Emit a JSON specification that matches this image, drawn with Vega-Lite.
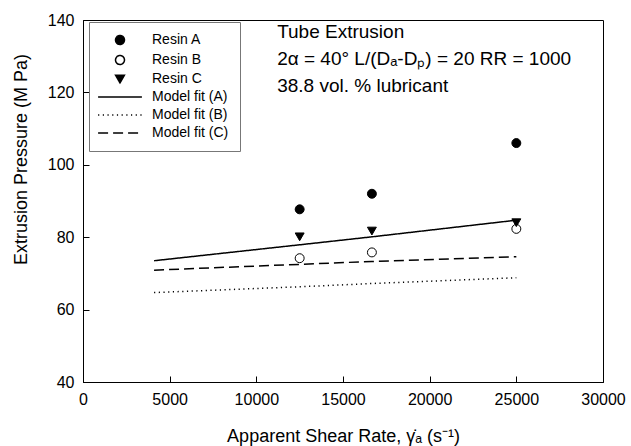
{
  "$schema": "https://vega.github.io/schema/vega-lite/v6.json",
  "width": 520,
  "height": 362,
  "autosize": {"type": "none"},
  "padding": {"left": 83, "top": 20, "right": 28, "bottom": 64},
  "background": "white",
  "config": {
    "font": "Liberation Sans",
    "view": {"stroke": "black", "strokeWidth": 1},
    "axis": {"labelColor": "black", "titleColor": "black", "titleFontWeight": "normal", "grid": false}
  },
  "layer": [
    {
      "data": {"values": [
        {"series": "Model fit (A)", "x": 4100, "y": 73.5},
        {"series": "Model fit (A)", "x": 12500, "y": 77.9},
        {"series": "Model fit (A)", "x": 16667, "y": 80.1},
        {"series": "Model fit (A)", "x": 25000, "y": 84.7},
        {"series": "Model fit (B)", "x": 4100, "y": 64.7},
        {"series": "Model fit (B)", "x": 12500, "y": 66.3},
        {"series": "Model fit (B)", "x": 16667, "y": 67.2},
        {"series": "Model fit (B)", "x": 25000, "y": 68.8},
        {"series": "Model fit (C)", "x": 4100, "y": 70.9},
        {"series": "Model fit (C)", "x": 12500, "y": 72.5},
        {"series": "Model fit (C)", "x": 16667, "y": 73.3},
        {"series": "Model fit (C)", "x": 25000, "y": 74.6}
      ]},
      "mark": {"type": "line", "color": "black", "strokeWidth": 1.5},
      "encoding": {
        "x": {"field": "x", "type": "quantitative", "scale": {"domain": [0, 30000], "nice": false},
          "axis": {"orient": "bottom", "values": [0, 5000, 10000, 15000, 20000, 25000, 30000], "format": "d", "ticks": true, "tickColor": "black", "tickWidth": 1, "tickOpacity": 1, "tickSize": -6, "labelPadding": 15, "labelFontSize": 16, "labelFlush": false, "grid": false, "domainColor": "black",
            "title": "Apparent Shear Rate, γ̇ₐ (s⁻¹)", "titleFontSize": 18, "titleBaseline": "middle", "titleY": 54}},
        "y": {"field": "y", "type": "quantitative", "scale": {"domain": [40, 140], "nice": false, "zero": false},
          "axis": {"orient": "left", "values": [40, 60, 80, 100, 120, 140], "ticks": true, "tickColor": "black", "tickWidth": 1, "tickOpacity": 1, "tickSize": -6, "labelPadding": 15, "labelFontSize": 16, "labelFlush": false, "grid": false, "domainColor": "black",
            "title": "Extrusion Pressure (M Pa)", "titleFontSize": 18, "titleBaseline": "middle", "titleAlign": "center", "titleX": -62, "titleY": 139, "titleAngle": -90}},
        "strokeDash": {"field": "series", "type": "nominal",
          "scale": {"domain": ["Resin A", "Resin B", "Resin C", "Model fit (A)", "Model fit (B)", "Model fit (C)"], "range": [[1, 0], [1, 0], [1, 0], [1, 0], [1.2, 3.5], [10, 5]]},
          "legend": {"orient": "none", "legendX": 6, "legendY": 2, "title": null, "padding": 11, "strokeColor": "#777", "fillColor": "white", "labelFontSize": 14, "labelColor": "black", "rowPadding": 4, "labelOffset": 25, "symbolOffset": 13, "symbolSize": 80, "labelExpr": "datum.label + ' '",
            "encode": {"symbols": {"update": {"stroke": {"value": "black"}, "strokeWidth": {"value": 1.3}, "opacity": {"value": 1}}}}}}
      }
    },
    {
      "data": {"values": [
        {"series": "Resin A", "x": 12500, "y": 87.7},
        {"series": "Resin A", "x": 16667, "y": 92.0},
        {"series": "Resin A", "x": 25000, "y": 106.0},
        {"series": "Resin B", "x": 12500, "y": 74.2},
        {"series": "Resin B", "x": 16667, "y": 75.8},
        {"series": "Resin B", "x": 25000, "y": 82.3},
        {"series": "Resin C", "x": 12500, "y": 80.1},
        {"series": "Resin C", "x": 16667, "y": 81.7},
        {"series": "Resin C", "x": 25000, "y": 84.0}
      ]},
      "mark": {"type": "point", "filled": true, "stroke": "black", "strokeWidth": 1, "opacity": 1, "size": 80},
      "encoding": {
        "x": {"field": "x", "type": "quantitative", "scale": {"domain": [0, 30000], "nice": false}},
        "y": {"field": "y", "type": "quantitative", "scale": {"domain": [40, 140], "nice": false, "zero": false}},
        "shape": {"field": "series", "type": "nominal",
          "scale": {"domain": ["Resin A", "Resin B", "Resin C", "Model fit (A)", "Model fit (B)", "Model fit (C)"], "range": ["circle", "circle", "triangle-down", "M-4.9,0H4.9", "M-4.9,0H4.9", "M-4.9,0H4.9"]},
          "legend": {"orient": "none", "legendX": 6, "legendY": 2, "title": null, "padding": 11, "strokeColor": "#777", "fillColor": "white", "labelFontSize": 14, "labelColor": "black", "rowPadding": 4, "labelOffset": 25, "symbolOffset": 13, "symbolSize": 80, "labelExpr": "datum.label + ' '",
            "encode": {"symbols": {"update": {"stroke": {"value": "black"}, "strokeWidth": {"value": 1.3}, "opacity": {"value": 1}}}}}},
        "fill": {"field": "series", "type": "nominal",
          "scale": {"domain": ["Resin A", "Resin B", "Resin C", "Model fit (A)", "Model fit (B)", "Model fit (C)"], "range": ["black", "white", "black", "transparent", "transparent", "transparent"]},
          "legend": {"orient": "none", "legendX": 6, "legendY": 2, "title": null, "padding": 11, "strokeColor": "#777", "fillColor": "white", "labelFontSize": 14, "labelColor": "black", "rowPadding": 4, "labelOffset": 25, "symbolOffset": 13, "symbolSize": 80, "labelExpr": "datum.label + ' '",
            "encode": {"symbols": {"update": {"stroke": {"value": "black"}, "strokeWidth": {"value": 1.3}, "opacity": {"value": 1}}}}}}
      }
    },
    {
      "data": {"values": [{}]},
      "mark": {"type": "text", "text": "Tube Extrusion", "align": "left", "baseline": "middle", "fontSize": 19, "color": "black"},
      "encoding": {
        "x": {"datum": 11200, "type": "quantitative", "scale": {"domain": [0, 30000], "nice": false}},
        "y": {"datum": 136.7, "type": "quantitative", "scale": {"domain": [40, 140], "nice": false, "zero": false}}
      }
    },
    {
      "data": {"values": [{}]},
      "mark": {"type": "text", "text": "2α = 40° L/(Dₐ-Dₚ) = 20 RR = 1000", "align": "left", "baseline": "middle", "fontSize": 19, "color": "black"},
      "encoding": {
        "x": {"datum": 11200, "type": "quantitative", "scale": {"domain": [0, 30000], "nice": false}},
        "y": {"datum": 129.2, "type": "quantitative", "scale": {"domain": [40, 140], "nice": false, "zero": false}}
      }
    },
    {
      "data": {"values": [{}]},
      "mark": {"type": "text", "text": "38.8 vol. % lubricant", "align": "left", "baseline": "middle", "fontSize": 19, "color": "black"},
      "encoding": {
        "x": {"datum": 11200, "type": "quantitative", "scale": {"domain": [0, 30000], "nice": false}},
        "y": {"datum": 121.8, "type": "quantitative", "scale": {"domain": [40, 140], "nice": false, "zero": false}}
      }
    }
  ]
}
